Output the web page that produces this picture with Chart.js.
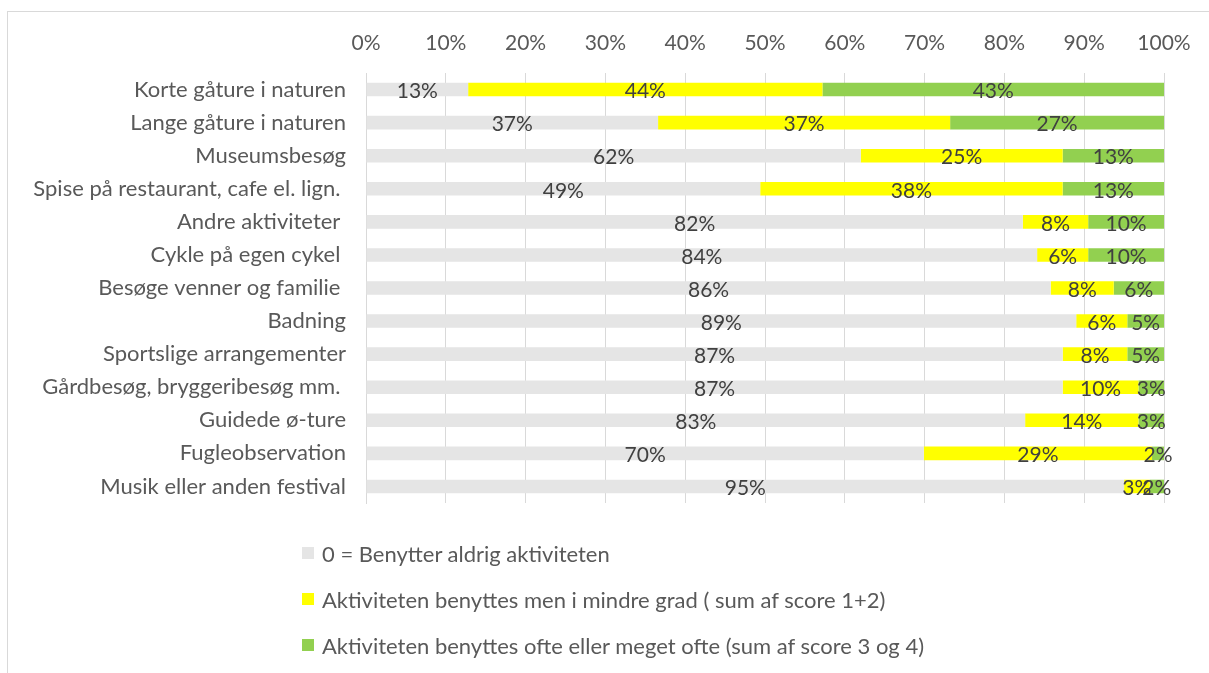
<!DOCTYPE html>
<html>
<head>
<meta charset="utf-8">
<script src="https://cdn.jsdelivr.net/npm/chart.js@4"></script>
<style>
  body { margin: 0; background: #fff; }
  #frame { position: absolute; left: 7px; top: 11px; width: 1220px; height: 700px; border: 1px solid #d9d9d9; }
  #wrap { position: absolute; left: 0; top: 0; width: 1209px; height: 673px; }
  #legend { position: absolute; left: 302px; top: 530px; font-family: Lato, sans-serif; font-size: 22px; color: #595959; }
  .item { height: 46px; display: flex; align-items: center; }
  .box { width: 12px; height: 12px; margin-right: 8px; }
</style>
</head>
<body>
<div id="frame"></div>
<div id="wrap"><canvas id="chart" width="1209" height="673"></canvas></div>
<div id="legend"></div>
<script>
const categories = [
  "Korte gåture i naturen",
  "Lange gåture i naturen",
  "Museumsbesøg",
  "Spise på restaurant, cafe el. lign. ",
  "Andre aktiviteter ",
  "Cykle på egen cykel ",
  "Besøge venner og familie ",
  "Badning",
  "Sportslige arrangementer",
  "Gårdbesøg, bryggeribesøg mm. ",
  "Guidede ø-ture",
  "Fugleobservation",
  "Musik eller anden festival"
];
const seriesNames = [
  "0 = Benytter aldrig aktiviteten",
  "Aktiviteten benyttes men i mindre grad ( sum af score 1+2)",
  "Aktiviteten benyttes ofte eller meget ofte (sum af score 3 og 4)"
];
const neverValues = [12.8, 36.6, 62.0, 49.4, 82.3, 84.1, 85.8, 89.0, 87.3, 87.3, 82.6, 69.9, 95.0];
const lessValues  = [44.4, 36.6, 25.3, 37.9, 8.2, 6.4, 7.9, 6.4, 8.1, 9.5, 14.2, 28.6, 3.2];
const oftenValues = [42.8, 26.8, 12.7, 12.7, 9.5, 9.5, 6.3, 4.6, 4.6, 3.2, 3.2, 1.5, 1.8];
const xTicks = [0, 10, 20, 30, 40, 50, 60, 70, 80, 90, 100];
const colors = ["#e5e5e5", "#ffff00", "#92d050"];

const textFont = { family: "Lato", size: 22 };
const numFont = { family: "Lato", size: 21 };

// labels in the middle of every segment
const segmentLabels = {
  id: "segmentLabels",
  afterDatasetsDraw(chart) {
    const ctx = chart.ctx;
    ctx.save();
    ctx.font = "21px Lato";
    ctx.fillStyle = "#404040";
    ctx.textAlign = "center";
    ctx.textBaseline = "middle";
    chart.data.datasets.forEach((ds, i) => {
      chart.getDatasetMeta(i).data.forEach((bar, j) => {
        const cx = (bar.x + bar.base) / 2;
        ctx.fillText(Math.round(ds.data[j]) + "%", cx, bar.y + 2);
      });
    });
    ctx.restore();
  }
};

const chart = new Chart(document.getElementById("chart"), {
  type: "bar",
  data: {
    labels: categories,
    datasets: [neverValues, lessValues, oftenValues].map((d, i) => ({
      label: seriesNames[i],
      data: d,
      backgroundColor: colors[i],
      barPercentage: 0.41,
      categoryPercentage: 1
    }))
  },
  options: {
    indexAxis: "y",
    responsive: false,
    animation: false,
    layout: { padding: { top: 0, right: 45, bottom: 170, left: 0 } },
    plugins: { legend: { display: false }, tooltip: { enabled: false } },
    scales: {
      x: {
        position: "top",
        stacked: true,
        min: 0,
        max: 100,
        afterBuildTicks: s => { s.ticks = xTicks.map(v => ({ value: v })); },
        afterFit: s => { s.height = 73; },
        ticks: { callback: v => v + "%", color: "#595959", font: numFont, padding: 17, maxRotation: 0 },
        grid: { color: "#d9d9d9", drawTicks: false },
        border: { display: false }
      },
      y: {
        stacked: true,
        afterFit: s => { s.width = 366; },
        ticks: { color: "#595959", font: textFont, padding: 20 },
        grid: { display: false, drawTicks: false },
        border: { color: "#d9d9d9" }
      }
    }
  },
  plugins: [segmentLabels]
});

const legendEl = document.getElementById("legend");
seriesNames.forEach((name, i) => {
  const item = document.createElement("div");
  item.className = "item";
  item.innerHTML = `<span class="box" style="background:${colors[i]}"></span><span>${name}</span>`;
  legendEl.appendChild(item);
});
</script>
</body>
</html>
